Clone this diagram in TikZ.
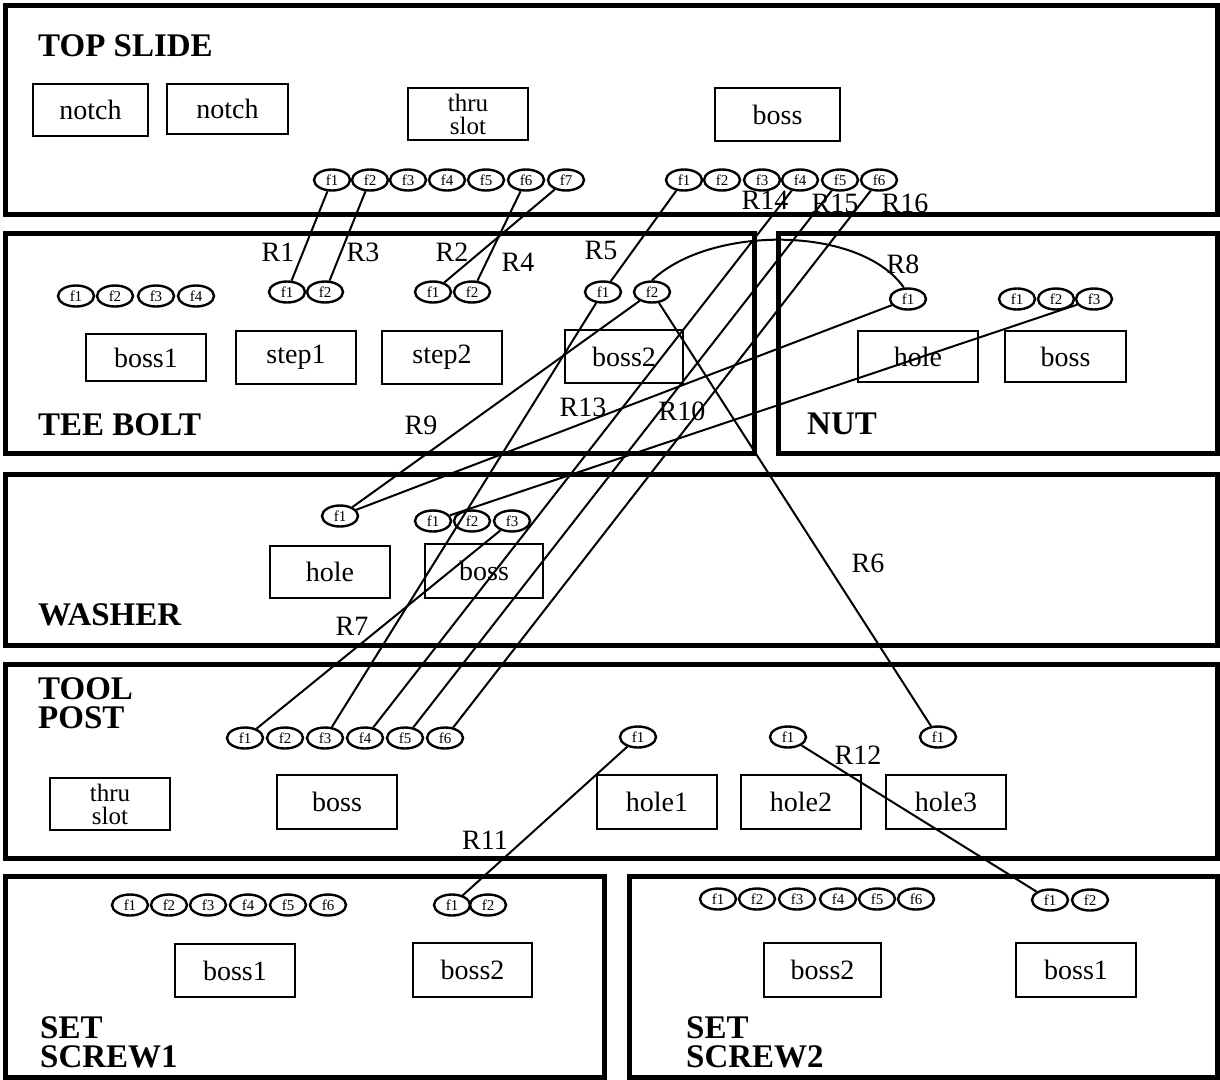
\documentclass[tikz,border=0pt]{standalone}
\usepackage{fontspec}
\setmainfont{Liberation Serif}
\usetikzlibrary{shapes.geometric}
\begin{document}
\begin{tikzpicture}[x=1pt,y=-1pt,
  panel/.style={line width=5pt},
  part/.style={draw, line width=2pt, inner sep=0pt, align=center,
    font=\fontsize{28}{22}\selectfont},
  slotpart/.style={part, font=\fontsize{25}{23}\selectfont},
  feat/.style={draw, ellipse, line width=2.4pt, minimum width=36pt,
    minimum height=21pt, inner sep=0pt, font=\fontsize{15}{15}\selectfont},
  rel/.style={line width=2pt},
  rlab/.style={inner sep=0pt, font=\fontsize{28}{28}\selectfont},
  ttl/.style={inner sep=0pt, anchor=north west, align=left,
    font=\fontsize{33}{29}\selectfont\bfseries}]
\useasboundingbox (0,0) rectangle (1220,1079);
\fill[white] (0,0) rectangle (1220,1079);
% panels
\draw[panel] (5,5) rectangle (1217,214);
\draw[panel] (5,233) rectangle (754,453);
\draw[panel] (778,233) rectangle (1217,453);
\draw[panel] (5,474) rectangle (1217,645);
\draw[panel] (5,664) rectangle (1217,858);
\draw[panel] (5,876) rectangle (604,1077);
\draw[panel] (629,876) rectangle (1217,1077);
% titles
\node[ttl] (tTop) at (38,34) {TOP SLIDE};
\node[ttl] (tTee) at (38,413) {TEE BOLT};
\node[ttl] (tNut) at (807,413) {NUT};
\node[ttl] (tWas) at (38,603) {WASHER};
\node[ttl] (tTool) at (38,677) {TOOL\\POST};
\node[ttl] (tSS1) at (40,1016) {SET\\SCREW1};
\node[ttl] (tSS2) at (686,1016) {SET\\SCREW2};
% parts: top slide
\node[part, minimum width=115pt, minimum height=52pt] (tsN1) at (90.5,110) {notch};
\node[part, minimum width=121pt, minimum height=50pt] (tsN2) at (227.5,109) {notch};
\node[slotpart, minimum width=120pt, minimum height=52pt] (tsTS) at (468,114) {thru\\slot};
\node[part, minimum width=125pt, minimum height=53pt] (tsB) at (777.5,114.5) {boss};
% tee bolt
\node[part, minimum width=120pt, minimum height=47pt] (teB1) at (146,357.5) {boss1};
\node[part, minimum width=120pt, minimum height=53pt] (teS1) at (296,357.5) {step1};
\node[part, minimum width=120pt, minimum height=53pt] (teS2) at (442,357.5) {step2};
\node[part, minimum width=118pt, minimum height=53pt] (teB2) at (624,356.5) {boss2};
% nut
\node[part, minimum width=120pt, minimum height=51pt] (nuH) at (918,356.5) {hole};
\node[part, minimum width=121pt, minimum height=51pt] (nuB) at (1065.5,356.5) {boss};
% washer
\node[part, minimum width=120pt, minimum height=52pt] (waH) at (330,572) {hole};
\node[part, minimum width=118pt, minimum height=54pt] (waB) at (484,571) {boss};
% tool post
\node[slotpart, minimum width=120pt, minimum height=52pt] (toTS) at (110,804) {thru\\slot};
\node[part, minimum width=120pt, minimum height=54pt] (toB) at (337,802) {boss};
\node[part, minimum width=120pt, minimum height=54pt] (toH1) at (657,802) {hole1};
\node[part, minimum width=120pt, minimum height=54pt] (toH2) at (801,802) {hole2};
\node[part, minimum width=120pt, minimum height=54pt] (toH3) at (946,802) {hole3};
% set screws
\node[part, minimum width=120pt, minimum height=53pt] (s1B1) at (235,970.5) {boss1};
\node[part, minimum width=119pt, minimum height=54pt] (s1B2) at (472.5,970) {boss2};
\node[part, minimum width=117pt, minimum height=54pt] (s2B2) at (822.5,970) {boss2};
\node[part, minimum width=120pt, minimum height=54pt] (s2B1) at (1076,970) {boss1};
% features
\foreach \x [count=\i] in {332,370,408,447,486,526,566}
  \node[feat] (tsa\i) at (\x,180) {f\i};
\foreach \x [count=\i] in {684,722,762,800,840,879}
  \node[feat] (tsb\i) at (\x,180) {f\i};
\foreach \x [count=\i] in {76,115,156,196}
  \node[feat] (tea\i) at (\x,296) {f\i};
\foreach \x [count=\i] in {287,325}
  \node[feat] (teb\i) at (\x,292) {f\i};
\foreach \x [count=\i] in {433,472}
  \node[feat] (tec\i) at (\x,292) {f\i};
\foreach \x [count=\i] in {603,652}
  \node[feat] (ted\i) at (\x,292) {f\i};
\node[feat] (nua1) at (908,299) {f1};
\foreach \x [count=\i] in {1017,1056,1094}
  \node[feat] (nub\i) at (\x,299) {f\i};
\node[feat] (waa1) at (340,516) {f1};
\foreach \x [count=\i] in {433,472,512}
  \node[feat] (wab\i) at (\x,521) {f\i};
\foreach \x [count=\i] in {245,285,325,365,405,445}
  \node[feat] (toa\i) at (\x,738) {f\i};
\node[feat] (tob1) at (638,737) {f1};
\node[feat] (toc1) at (788,737) {f1};
\node[feat] (tod1) at (938,737) {f1};
\foreach \x [count=\i] in {130,169,208,248,288,328}
  \node[feat] (s1a\i) at (\x,905) {f\i};
\foreach \x [count=\i] in {452,488}
  \node[feat] (s1b\i) at (\x,905) {f\i};
\foreach \x [count=\i] in {718,757,797,838,877,916}
  \node[feat] (s2a\i) at (\x,899) {f\i};
\foreach \x [count=\i] in {1050,1090}
  \node[feat] (s2b\i) at (\x,900) {f\i};
% relations
\draw[rel] (tsa1) -- (teb1);
\draw[rel] (tsa2) -- (teb2);
\draw[rel] (tsa7) -- (tec1);
\draw[rel] (tsa6) -- (tec2);
\draw[rel] (tsb1) -- (ted1);
\draw[rel] (tsb4) -- (toa4);
\draw[rel] (tsb5) -- (toa5);
\draw[rel] (tsb6) -- (toa6);
\draw[rel] (ted2.north) .. controls (710,225) and (860,225) .. (nua1.110);
\draw[rel] (ted2) -- (waa1);
\draw[rel] (nua1) -- (waa1);
\draw[rel] (nub3) -- (wab1);
\draw[rel] (ted1) -- (toa3);
\draw[rel] (wab3) -- (toa1);
\draw[rel] (ted2) -- (tod1);
\draw[rel] (tob1) -- (s1b1);
\draw[rel] (toc1) -- (s2b1);
% relation labels
\node[rlab] (lR1) at (278,252) {R1};
\node[rlab] (lR3) at (363,252) {R3};
\node[rlab] (lR2) at (452,252) {R2};
\node[rlab] (lR4) at (518,262) {R4};
\node[rlab] (lR5) at (601,250) {R5};
\node[rlab] (lR14) at (765,200) {R14};
\node[rlab] (lR15) at (835,203) {R15};
\node[rlab] (lR16) at (905,203) {R16};
\node[rlab] (lR8) at (903,264) {R8};
\node[rlab] (lR9) at (421,425) {R9};
\node[rlab] (lR13) at (583,407) {R13};
\node[rlab] (lR10) at (682,411) {R10};
\node[rlab] (lR7) at (352,626) {R7};
\node[rlab] (lR6) at (868,563) {R6};
\node[rlab] (lR11) at (485,840) {R11};
\node[rlab] (lR12) at (858,755) {R12};
\end{tikzpicture}
\end{document}
